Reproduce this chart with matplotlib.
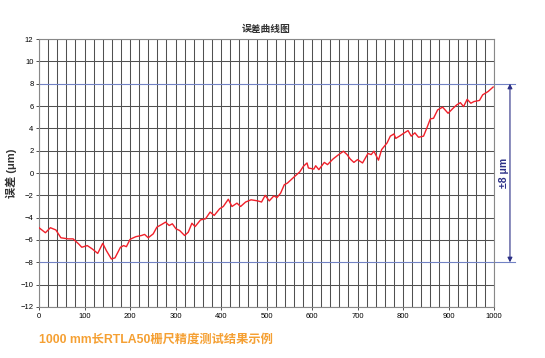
import matplotlib
matplotlib.use('Agg')
import matplotlib.pyplot as plt
import numpy as np

# latin glyphs in an Arial-like face, CJK falls through to Noto
plt.rcParams['font.family'] = ['Liberation Sans', 'Noto Sans CJK SC', 'DejaVu Sans']

# position (mm) and error (um)
pos = [0, 14, 25, 37, 48, 64, 75, 87, 94, 106, 117, 129, 140, 148, 159, 167, 179, 186, 192, 200,
       202, 213, 225, 232, 240, 251, 259, 270, 278, 286, 293, 301, 309, 320, 328, 336, 343, 355,
       366, 376, 385, 397, 405, 416, 424, 435, 443, 454, 466, 481, 489, 497, 506, 516, 523, 531,
       539, 546, 554, 562, 573, 581, 589, 592, 604, 608, 615, 627, 634, 646, 657, 669, 677, 684,
       692, 700, 711, 723, 730, 736, 746, 753, 765, 772, 780, 784, 792, 803, 811, 818, 826, 834,
       845, 853, 860, 867, 876, 887, 899, 910, 918, 926, 933, 941, 949, 956, 968, 975, 987, 998]
err = [-4.9, -5.35, -4.9, -5.1, -5.8, -5.9, -5.9, -6.35, -6.65, -6.5, -6.8, -7.2, -6.3, -6.95, -7.7,
       -7.6, -6.65, -6.5, -6.6, -5.95, -5.9, -5.7, -5.6, -5.5, -5.8, -5.45, -4.85, -4.6, -4.4, -4.7,
       -4.55, -5.0, -5.15, -5.6, -5.3, -4.5, -4.8, -4.2, -4.1, -3.5, -3.8, -3.2, -3.0, -2.35, -3.0,
       -2.7, -3.0, -2.6, -2.4, -2.5, -2.6, -2.0, -2.5, -2.05, -2.2, -1.8, -1.05, -0.9, -0.6, -0.3,
       0.1, 0.6, 0.9, 0.45, 0.35, 0.65, 0.3, 0.95, 0.75, 1.25, 1.6, 1.95, 1.65, 1.25, 0.95, 1.2,
       0.9, 1.75, 1.65, 1.95, 1.15, 2.1, 2.7, 3.3, 3.5, 3.1, 3.3, 3.6, 3.8, 3.3, 3.6, 3.2, 3.3,
       4.1, 4.85, 4.9, 5.65, 5.9, 5.35, 5.8, 6.1, 6.3, 5.95, 6.6, 6.25, 6.4, 6.5, 7.0, 7.3, 7.7]

x_ticks = np.arange(0, 1001, 100)
y_ticks = np.arange(-12, 13, 2)
limit = 8

fig = plt.figure(figsize=(5.45, 3.58), dpi=100)
ax = fig.add_axes([0.0716, 0.1425, 0.8349, 0.7485])

grid_col = '#505050'
for gx in np.arange(0, 1001, 20):
    ax.axvline(gx, color=grid_col, lw=0.75, zorder=1)
for gy in y_ticks:
    if abs(gy) == limit:
        continue
    ax.axhline(gy, color=grid_col, lw=0.75, zorder=1)

# +-8 um limit lines reach outside the plot
ax.plot([0, 1045], [limit, limit], color='#7282c4', lw=0.8, clip_on=False, zorder=2)
ax.plot([0, 1045], [-limit, -limit], color='#7282c4', lw=0.8, clip_on=False, zorder=2)
ax.annotate('', xy=(1035, limit), xytext=(1035, -limit), xycoords='data',
            arrowprops=dict(arrowstyle='<|-|>', color='#2b2f86', lw=0.8,
                            mutation_scale=7, shrinkA=0, shrinkB=0),
            annotation_clip=False)
ax.text(1022, 0, '±8 μm', rotation=90, ha='center', va='center', color='#2b2f86',
        fontsize=7.5, fontweight='bold', clip_on=False)

ax.plot(pos, err, color='#f0202a', lw=1.0, zorder=3)

ax.set_xlim(0, 1000)
ax.set_ylim(-12, 12)
ax.set_xticks(x_ticks)
ax.set_yticks(y_ticks)
ax.tick_params(labelsize=5.5, length=2, width=0.6, color='#333333', pad=2)
for s in ax.spines.values():
    s.set_color('#888888')
    s.set_linewidth(0.8)

ax.set_title('误差曲线图', fontsize=7, fontweight='bold', color='#333333', pad=5)
ax.set_ylabel('误差 (μm)', fontsize=8, fontweight='bold', color='#333333')
ax.yaxis.set_label_coords(-0.048, 0.5)

fig.text(0.0716, 0.05, '1000 mm长RTLA50栅尺精度测试结果示例', color='#f5a033',
         fontsize=8.8, fontweight='bold', ha='left', va='center')

fig.savefig('out.png', dpi=100)
